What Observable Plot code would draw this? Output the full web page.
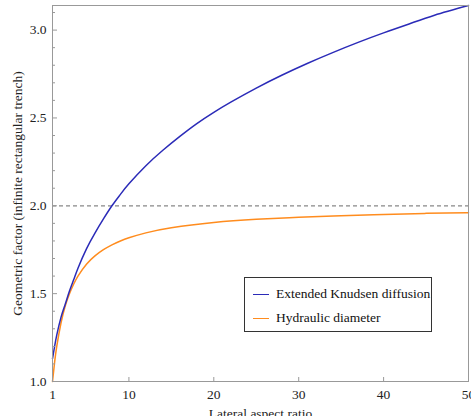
<!DOCTYPE html>
<html><head><meta charset="utf-8">
<script src="https://cdn.jsdelivr.net/npm/d3@7"></script>
<script src="https://cdn.jsdelivr.net/npm/@observablehq/plot@0.6"></script>
<style>
body{margin:0;background:#fff;}
#wrap{position:relative;width:471px;height:416px;overflow:hidden;font-family:"Liberation Serif","Times New Roman",serif;}
#legend{position:absolute;left:244px;top:277px;width:188px;height:55px;border:1px solid #333;background:#fff;box-sizing:border-box;font-size:13.5px;color:#111;}
.row{position:absolute;left:0;height:16px;display:flex;align-items:center;white-space:nowrap;}
.sw{display:inline-block;width:16px;height:0;border-top:1.5px solid;margin-left:8px;margin-right:7px;}
</style></head><body><div id="wrap"></div>
<script>
// Series names and colours
const seriesNames = ["Extended Knudsen diffusion", "Hydraulic diameter"];
const seriesColors = ["#2b2bb8", "#ff8c1e"];

// Extended Knudsen diffusion (blue)
const knudsenX = [1, 1.25, 1.5, 2, 2.5, 3, 3.5, 4, 5, 6, 7, 8, 9, 10, 12, 14, 16, 18, 20, 22, 25, 28, 31, 34, 37, 40, 43, 46, 50];
const knudsenY = [1.13, 1.20, 1.264, 1.365, 1.44, 1.515, 1.58, 1.645, 1.755, 1.845, 1.925, 2.00, 2.065, 2.125, 2.228, 2.316, 2.395, 2.468, 2.532, 2.59, 2.67, 2.743, 2.81, 2.872, 2.93, 2.984, 3.035, 3.085, 3.14];

// Hydraulic diameter (orange)
const hydraulicX = [1, 1.25, 1.5, 2, 2.5, 3, 3.5, 4, 5, 6, 7, 8, 9, 10, 12, 15, 20, 25, 30, 35, 40, 45, 50];
const hydraulicY = [1.00, 1.11, 1.20, 1.333, 1.43, 1.50, 1.555, 1.60, 1.667, 1.715, 1.75, 1.778, 1.80, 1.818, 1.846, 1.875, 1.905, 1.923, 1.935, 1.944, 1.951, 1.957, 1.961];

// Reference dashed line
const asymptote = [2.0];

// Ticks
const xTicks = [1, 10, 20, 30, 40, 50];
const yTicks = [1.0, 1.5, 2.0, 2.5, 3.0];
const yMinorTicks = d3.range(11, 32).map(d => d / 10).filter(d => !yTicks.some(t => Math.abs(t - d) < 1e-9));

const knudsen = knudsenX.map((x, i) => ({x, y: knudsenY[i]}));
const hydraulic = hydraulicX.map((x, i) => ({x, y: hydraulicY[i]}));

const axisGray = "#999";

const chart = Plot.plot({
  width: 471,
  height: 416,
  marginLeft: 52,
  marginRight: 3,
  marginTop: 5,
  marginBottom: 35,
  style: {fontFamily: "'Liberation Serif', 'Times New Roman', serif", fontSize: "13px", color: "#222", background: "#fff"},
  x: {domain: [1, 50]},
  y: {domain: [1, 3.14]},
  marks: [
    Plot.ruleY(asymptote, {stroke: "#888", strokeDasharray: "4,3", strokeWidth: 1.2}),
    Plot.line(hydraulic, {x: "x", y: "y", stroke: seriesColors[1], strokeWidth: 1.5, curve: "natural"}),
    Plot.line(knudsen, {x: "x", y: "y", stroke: seriesColors[0], strokeWidth: 1.5, curve: "natural"}),
    Plot.frame({stroke: axisGray}),
    Plot.axisY(yMinorTicks, {tickSize: -3, tickFormat: () => "", stroke: axisGray, label: null}),
    Plot.axisY(yTicks, {tickSize: -5, tickFormat: () => "", stroke: axisGray, label: null}),
    Plot.axisY(yTicks, {tickSize: 0, tickPadding: 6, tickFormat: d3.format(".1f"), fill: "#222", fontSize: 13.5,
      label: "Geometric factor (infinite rectangular trench)", labelAnchor: "center", labelOffset: 40, labelArrow: "none"}),
    Plot.axisX(xTicks, {tickSize: -4, tickFormat: () => "", stroke: axisGray, label: null}),
    Plot.axisX(xTicks, {tickSize: 0, tickPadding: 8, fill: "#222", fontSize: 13.5,
      label: "Lateral aspect ratio", labelAnchor: "center", labelOffset: 36, labelArrow: "none"})
  ]
});

const wrap = document.getElementById("wrap");
wrap.appendChild(chart);

const legend = document.createElement("div");
legend.id = "legend";
seriesNames.forEach((name, i) => {
  const row = document.createElement("div");
  row.className = "row";
  row.style.top = (i === 0 ? 8 : 32) + "px";
  const sw = document.createElement("span");
  sw.className = "sw";
  sw.style.borderTopColor = seriesColors[i];
  const t = document.createElement("span");
  t.textContent = name;
  row.appendChild(sw);
  row.appendChild(t);
  legend.appendChild(row);
});
wrap.appendChild(legend);
</script>
</body></html>
